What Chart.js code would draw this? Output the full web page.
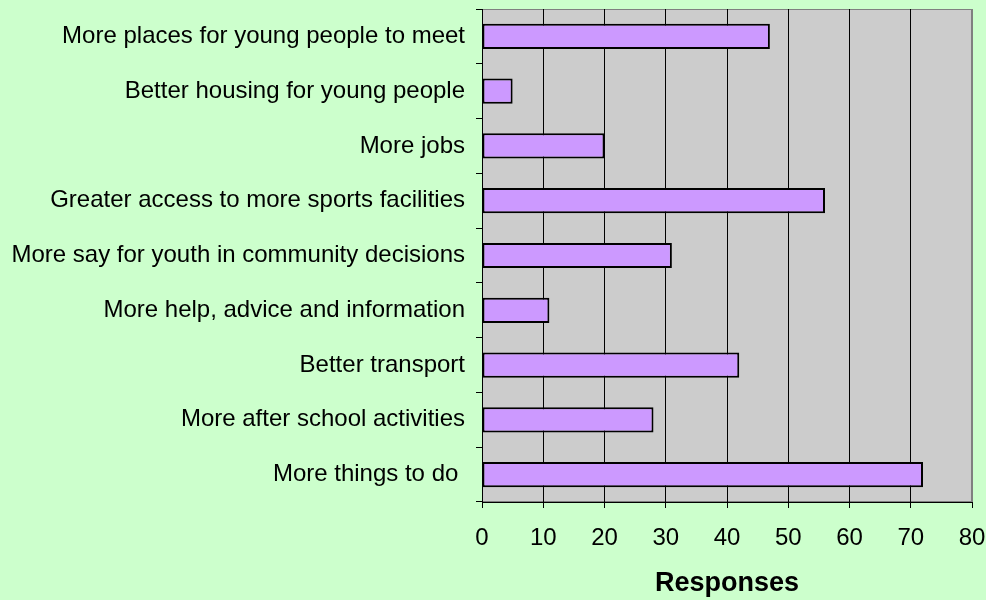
<!DOCTYPE html>
<html>
<head>
<meta charset="utf-8">
<script src="https://cdn.jsdelivr.net/npm/chart.js@4"></script>
<style>
  html, body { margin: 0; padding: 0; background: #CCFFCC; }
  #wrap { width: 986px; height: 600px; }
</style>
</head>
<body>
<div id="wrap"><canvas id="chart" width="986" height="600"></canvas></div>
<script>
const categories = [
  "More places for young people to meet",
  "Better housing for young people",
  "More jobs",
  "Greater access to more sports facilities",
  "More say for youth in community decisions",
  "More help, advice and information",
  "Better transport",
  "More after school activities",
  "More things to do "
];
const responses = [47, 5, 20, 56, 31, 11, 42, 28, 72];
const xTicks = [0, 10, 20, 30, 40, 50, 60, 70, 80];

const plotBackground = {
  id: 'plotBackground',
  beforeDraw(chart) {
    const {ctx, chartArea: a} = chart;
    ctx.save();
    ctx.fillStyle = '#CCFFCC';
    ctx.fillRect(0, 0, chart.width, chart.height);
    ctx.fillStyle = '#CCCCCC';
    ctx.fillRect(a.left, a.top, a.right - a.left, a.bottom - a.top);
    ctx.strokeStyle = '#808080';
    ctx.lineWidth = 1;
    ctx.strokeRect(a.left + 0.5, a.top + 0.5, a.right - a.left - 1, a.bottom - a.top - 1);
    ctx.restore();
  }
};

const font = {family: 'Arial, "Liberation Sans", sans-serif', size: 24};

new Chart(document.getElementById('chart'), {
  type: 'bar',
  data: {
    labels: categories,
    datasets: [{
      data: responses,
      backgroundColor: '#CC99FF',
      borderColor: '#000000',
      borderWidth: 2,
      borderSkipped: false,
      categoryPercentage: 1,
      barPercentage: 0.46
    }]
  },
  options: {
    indexAxis: 'y',
    responsive: false,
    animation: false,
    layout: {padding: {top: 9, right: 14, left: 0, bottom: 0}},
    plugins: {legend: {display: false}, tooltip: {enabled: false}},
    scales: {
      x: {
        min: 0, max: 80,
        afterFit(scale) {
          scale.height = 98;
          scale.paddingLeft = 0;
          scale.paddingRight = 0;
        },
        afterBuildTicks(scale) { scale.ticks = xTicks.map(v => ({value: v})); },
        ticks: {color: '#000', font: font, padding: 16, maxRotation: 0},
        grid: {
          color: ctx => ctx.index === 8 ? '#808080' : '#000000',
          lineWidth: 1,
          tickLength: 6,
          tickColor: '#000'
        },
        border: {color: '#000', width: 1},
        title: {
          display: true,
          text: 'Responses',
          color: '#000',
          font: {family: 'Arial, "Liberation Sans", sans-serif', size: 27, weight: 'bold'},
          padding: {top: 0, bottom: 0}
        }
      },
      y: {
        afterFit(scale) {
          scale.width = 482;
          scale.paddingTop = 0;
          scale.paddingBottom = 0;
        },
        ticks: {color: '#000', font: font, padding: 11},
        grid: {
          offset: true,
          drawOnChartArea: false,
          tickLength: 6,
          tickColor: '#000'
        },
        border: {color: '#000', width: 1}
      }
    }
  },
  plugins: [plotBackground]
});
</script>
</body>
</html>
